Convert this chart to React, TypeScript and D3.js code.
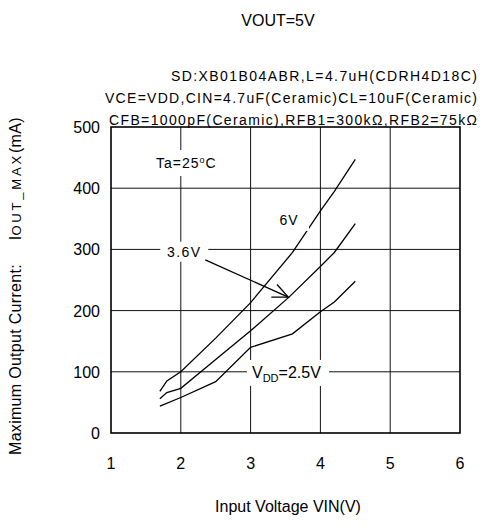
import React from "react";
import * as d3 from "d3";

const vin6 = [1.7, 1.8, 2.0, 2.5, 3.0, 3.6, 4.0, 4.2, 4.5];
const iout6 = [68, 85, 100, 155, 213, 295, 363, 395, 447];
const vin36 = [1.7, 1.8, 2.0, 2.5, 3.0, 3.55, 4.0, 4.2, 4.5];
const iout36 = [56, 66, 73, 120, 167, 222, 272, 295, 342];
const vin25 = [1.7, 2.0, 2.5, 3.0, 3.6, 4.0, 4.2, 4.5];
const iout25 = [44, 58, 84, 140, 162, 198, 214, 248];

const xTicks = [1, 2, 3, 4, 5, 6];
const yTicks = [0, 100, 200, 300, 400, 500];

const annotationLines = [
  "SD:XB01B04ABR,L=4.7uH(CDRH4D18C)",
  "VCE=VDD,CIN=4.7uF(Ceramic)CL=10uF(Ceramic)",
  "CFB=1000pF(Ceramic),RFB1=300kΩ,RFB2=75kΩ",
];
const annotationWidths = [306, 372, 368];

const FONT = "'Liberation Sans', Arial, sans-serif";

export default function App() {
  const W = 483, H = 528;
  const x = d3.scaleLinear().domain([1, 6]).range([111, 460]);
  const y = d3.scaleLinear().domain([0, 500]).range([433, 127]);
  const mk = (xs: number[], ys: number[]) =>
    d3.line<[number, number]>().x(d => x(d[0])).y(d => y(d[1]))(xs.map((v, i) => [v, ys[i]] as [number, number])) || "";

  const series = [
    { xs: vin6, ys: iout6 },
    { xs: vin36, ys: iout36 },
    { xs: vin25, ys: iout25 },
  ];

  const arrowFrom: [number, number] = [2.35, 283];
  const arrowTo: [number, number] = [3.54, 222];
  const ax0 = x(arrowFrom[0]), ay0 = y(arrowFrom[1]);
  const ax1 = x(arrowTo[0]), ay1 = y(arrowTo[1]);
  const ang = Math.atan2(ay1 - ay0, ax1 - ax0);
  const hl = 17, ha = 0.42;
  const h1 = [ax1 - hl * Math.cos(ang - ha), ay1 - hl * Math.sin(ang - ha)];
  const h2 = [ax1 - hl * Math.cos(ang + ha), ay1 - hl * Math.sin(ang + ha)];

  return (
    <svg width={W} height={H} style={{ position: "absolute", left: 0, top: 0, background: "#fff" }} fontFamily={FONT}>
      <rect width={W} height={H} fill="#fff" />
      {xTicks.slice(1, -1).map(t => (
        <line key={"gx" + t} x1={x(t)} x2={x(t)} y1={y(0)} y2={y(500)} stroke="#111" strokeWidth={1} />
      ))}
      {yTicks.slice(1, -1).map(t => (
        <line key={"gy" + t} x1={x(1)} x2={x(6)} y1={y(t)} y2={y(t)} stroke="#111" strokeWidth={1} />
      ))}
      <rect x={x(1)} y={y(500)} width={x(6) - x(1)} height={y(0) - y(500)} fill="none" stroke="#000" strokeWidth={1.6} />
      {series.map((s, i) => (
        <path key={i} d={mk(s.xs, s.ys)} fill="none" stroke="#000" strokeWidth={1.3} />
      ))}
      <rect x={x(2.08) - 36} y={y(433) - 18} width={72} height={26} fill="#fff" />
      <rect x={x(3.55) - 14} y={y(340) - 16} width={34} height={22} fill="#fff" />
      <rect x={x(2.05) - 24} y={y(288) - 15} width={48} height={20} fill="#fff" />
      <rect x={x(3.02) - 5} y={y(90) - 18} width={82} height={26} fill="#fff" />
      <text x={x(2.08)} y={y(433)} fontSize={14} letterSpacing={1} textAnchor="middle">Ta=25<tspan dy={-5} fontSize={9}>o</tspan><tspan dy={5}>C</tspan></text>
      <text x={x(3.55)} y={y(340)} fontSize={14} letterSpacing={1} textAnchor="middle">6V</text>
      <text x={x(2.05)} y={y(288)} fontSize={14} letterSpacing={1.5} textAnchor="middle">3.6V</text>
      <text x={x(3.02)} y={y(90)} fontSize={16}>V<tspan fontSize={11} dy={4}>DD</tspan><tspan dy={-4}>=2.5V</tspan></text>
      <line x1={ax0} y1={ay0} x2={ax1} y2={ay1} stroke="#000" strokeWidth={1.3} />
      <polyline points={`${h1[0]},${h1[1]} ${ax1},${ay1} ${h2[0]},${h2[1]}`} fill="none" stroke="#000" strokeWidth={1.3} />
      {xTicks.map(t => (
        <text key={"xt" + t} x={x(t)} y={469} fontSize={16} textAnchor="middle">{t}</text>
      ))}
      {yTicks.map(t => (
        <text key={"yt" + t} x={100} y={y(t) + 6} fontSize={16} textAnchor="end">{t}</text>
      ))}
      <text x={278} y={26} fontSize={16} textAnchor="middle">VOUT=5V</text>
      {annotationLines.map((s, i) => (
        <text key={"an" + i} x={477 - annotationWidths[i]} y={81 + i * 22} fontSize={14}
          textLength={annotationWidths[i]} lengthAdjust="spacing">{s}</text>
      ))}
      <text x={288} y={512} fontSize={16} textAnchor="middle">Input Voltage VIN(V)</text>
      <text transform={`translate(21,455) rotate(-90)`} fontSize={16} letterSpacing={0.3} textAnchor="start">
        Maximum Output Current:{"\u00A0\u00A0\u00A0\u00A0\u00A0"}I<tspan fontSize={13} letterSpacing={2.8}>OUT_MAX</tspan><tspan letterSpacing={0.3}>(mA)</tspan>
      </text>
    </svg>
  );
}
